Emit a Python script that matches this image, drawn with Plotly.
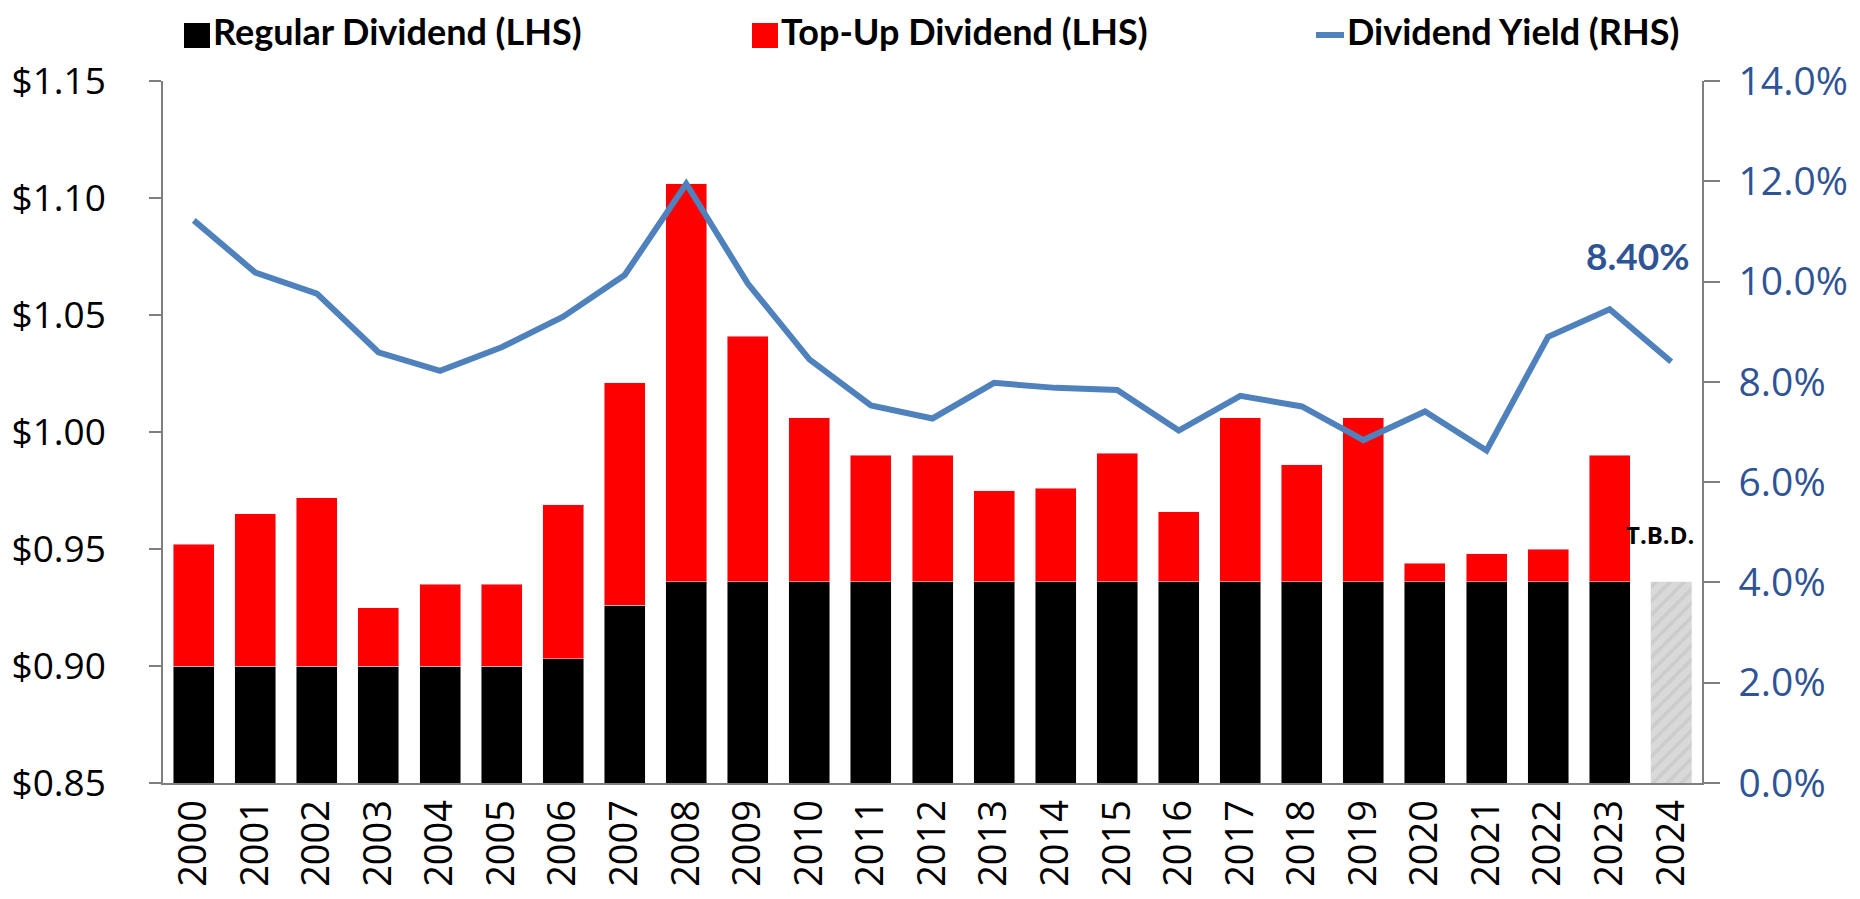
import plotly.graph_objects as go

years = [str(y) for y in range(2000, 2025)]
regular = [0.900, 0.900, 0.900, 0.900, 0.900, 0.900, 0.903, 0.926,
           0.936, 0.936, 0.936, 0.936, 0.936, 0.936, 0.936, 0.936,
           0.936, 0.936, 0.936, 0.936, 0.936, 0.936, 0.936, 0.936, None]
total = [0.952, 0.965, 0.972, 0.925, 0.935, 0.935, 0.969, 1.021,
         1.106, 1.041, 1.006, 0.990, 0.990, 0.975, 0.976, 0.991,
         0.966, 1.006, 0.986, 1.006, 0.944, 0.948, 0.950, 0.990, None]
tbd_regular = [None] * 24 + [0.936]
yield_pct = [0.1122, 0.1018, 0.0976, 0.0859, 0.0822, 0.0869, 0.0930, 0.1013,
             0.1195, 0.0996, 0.0845, 0.0753, 0.0727, 0.0798, 0.0788, 0.0784,
             0.0703, 0.0772, 0.0751, 0.0684, 0.0741, 0.0663, 0.0890, 0.0945,
             0.0840]
topup = [None if t is None else round(t - r, 3) for t, r in zip(total, regular)]

legend_names = ["Regular Dividend (LHS)", "Top-Up Dividend (LHS)", "Dividend Yield (RHS)"]

BLUE_LINE = "#4F81BD"
BLUE_TXT = "#2F5496"
AXIS = "#7F7F7F"
FONT = "Open Sans"

fig = go.Figure()
fig.add_trace(go.Bar(x=years, y=regular, name=legend_names[0], marker_color="#000000"))
fig.add_trace(go.Bar(x=years, y=topup, name=legend_names[1], marker_color="#FF0000"))
fig.add_trace(go.Bar(x=years, y=tbd_regular, name="T.B.D.",
                     marker=dict(color="#D9D9D9",
                                 pattern=dict(shape="/", fgcolor="#BFBFBF", bgcolor="#D9D9D9",
                                              size=10, solidity=0.35))))
fig.add_trace(go.Scatter(x=years, y=yield_pct, name=legend_names[2], yaxis="y2",
                         mode="lines", line=dict(color=BLUE_LINE, width=6)))

W, H = 1860, 899
L, R, T, B = 155, 166, 73, 124
pw, ph = W - L - R, H - T - B


def px(x):
    return (x - L) / pw


def py(y):
    return (H - B - y) / ph


last = len(years) - 1

shapes = [
    dict(type="rect", xref="paper", yref="paper", x0=px(176), x1=px(202), y0=py(40), y1=py(15),
         fillcolor="#000000", line=dict(width=0)),
    dict(type="rect", xref="paper", yref="paper", x0=px(744), x1=px(770), y0=py(40), y1=py(15),
         fillcolor="#FF0000", line=dict(width=0)),
    dict(type="line", xref="paper", yref="paper", x0=px(1308), x1=px(1336), y0=py(27), y1=py(27),
         line=dict(color=BLUE_LINE, width=6)),
]
leg_font = dict(family="Lato", size=36, color="#000000")
LEG_Y = 23
annotations = [
    dict(xref="paper", yref="paper", x=px(203), y=py(LEG_Y), text="<b>%s</b>" % legend_names[0],
         xanchor="left", yanchor="middle", showarrow=False, font=leg_font),
    dict(xref="paper", yref="paper", x=px(771), y=py(LEG_Y), text="<b>%s</b>" % legend_names[1],
         xanchor="left", yanchor="middle", showarrow=False, font=leg_font),
    dict(xref="paper", yref="paper", x=px(1337), y=py(LEG_Y), text="<b>%s</b>" % legend_names[2],
         xanchor="left", yanchor="middle", showarrow=False, font=leg_font),
    dict(x=last, y=tbd_regular[-1], xref="x", yref="y", text="<b>T.B.D.</b>",
         showarrow=False, yanchor="bottom", xanchor="center", yshift=29, xshift=-11,
         font=dict(family=FONT, size=24, color="#000000")),
    dict(x=last, y=yield_pct[-1], xref="x", yref="y2", text="<b>8.40%</b>",
         showarrow=False, yanchor="middle", xanchor="right", yshift=106, xshift=21,
         font=dict(family="Lato", size=37, color=BLUE_TXT)),
]

fig.update_layout(
    width=W, height=H,
    margin=dict(l=L, r=R, t=T, b=B, autoexpand=False),
    paper_bgcolor="white", plot_bgcolor="white",
    barmode="stack", bargap=0.334,
    showlegend=False,
    shapes=shapes, annotations=annotations,
    xaxis=dict(type="category", range=[-0.5, last + 0.5], tickangle=-90, showgrid=False, ticks="",
               showline=True, linecolor=AXIS, linewidth=1.5,
               tickfont=dict(family=FONT, size=38, color="#000000"),
               automargin=False),
    yaxis=dict(range=[0.85, 1.15], dtick=0.05, tick0=0.85, tickformat="$.2f",
               showgrid=False, zeroline=False, showline=True, linecolor=AXIS, linewidth=1.5,
               ticks="outside", ticklen=12, tickcolor=AXIS, tickwidth=1.5,
               ticklabelstandoff=36,
               tickfont=dict(family=FONT, size=37, color="#000000"),
               automargin=False),
    yaxis2=dict(range=[0, 0.14], dtick=0.02, tick0=0, tickformat=".1%", overlaying="y",
                side="right", showgrid=False, zeroline=False, showline=True,
                linecolor=AXIS, linewidth=1.5, ticks="outside", ticklen=16,
                tickcolor=AXIS, tickwidth=1.5, ticklabelstandoff=11,
                tickfont=dict(family=FONT, size=39, color=BLUE_TXT),
                automargin=False),
)

fig.write_html("out.html")
